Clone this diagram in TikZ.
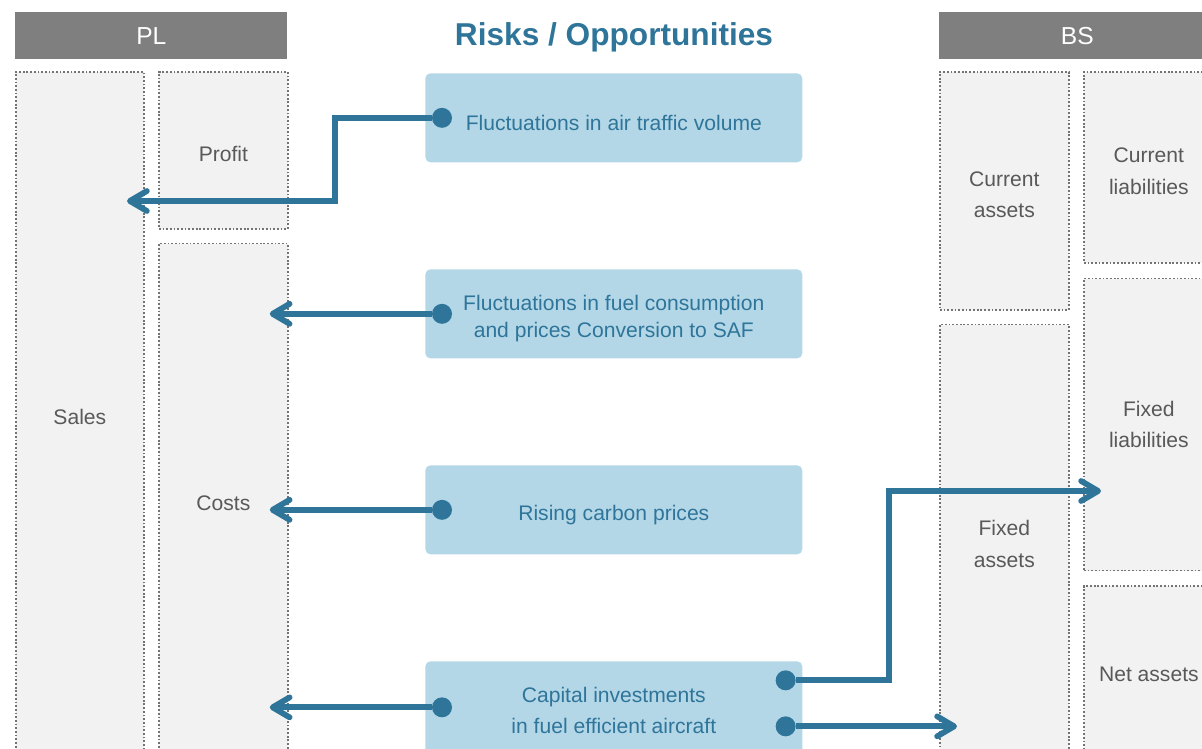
\documentclass[tikz,border=0pt]{standalone}
\usepackage{fontspec}
\setmainfont{Liberation Sans}
\usetikzlibrary{positioning,arrows.meta,calc}
\definecolor{accent}{RGB}{46,117,153}
\definecolor{riskbg}{RGB}{180,215,232}
\definecolor{cellbg}{RGB}{242,242,242}
\definecolor{headc}{RGB}{127,127,127}
\definecolor{labelc}{RGB}{89,89,89}
\definecolor{edgec}{RGB}{115,115,115}
\tikzset{
  hd/.style={fill=headc,text=white,anchor=north west,minimum width=5.44cm,minimum height=0.94cm,inner sep=0pt,font=\fontsize{14}{16}\selectfont},
  cell/.style={draw=edgec,line width=1pt,dash pattern=on 1pt off 1.1pt,fill=cellbg,anchor=north west,minimum width=2.58cm,align=center,text=labelc,inner sep=0pt,font=\fontsize{12}{18}\selectfont},
  risk/.style={fill=riskbg,rounded corners=0.1cm,anchor=north west,minimum width=7.54cm,minimum height=1.78cm,align=center,text=accent,font=\fontsize{12}{18}\selectfont},
  low/.style={text height=1.5em},
  lowtwo/.style={text height=31pt},
  dot/.style={circle,fill=accent,inner sep=0pt,minimum size=0.4cm},
  ar/.style={-{Straight Barb[length=0.34cm,width=0.4cm,round]},line width=0.115cm,accent},
}
\begin{document}
\begin{tikzpicture}[x=0.02cm,y=-0.02cm]
  \useasboundingbox (0,0) rectangle (1202,749);
  \clip (0,0) rectangle (1202,749);
  % headers
  \node[hd] (plhd) at (15,12) {PL};
  \node[hd,minimum width=5.52cm] (bshd) at (939,12) {BS};
  \node[font=\bfseries\fontsize{18}{20}\selectfont,text=accent] (ttl) at (614,37) {Risks / Opportunities};
  % PL
  \node[cell,minimum width=2.56cm,minimum height=13.8cm] (sales) at (15,71) {Sales};
  \node[cell,text height=1.25em,minimum height=3.14cm] (profit) at (158,71) {Profit};
  \node[cell,minimum height=10.4cm] (costs) at ([yshift=-0.26cm]profit.south west) {Costs};
  % BS
  \node[cell,lowtwo,minimum height=4.76cm] (curass) at (939,71) {Current\\assets};
  \node[cell,minimum height=8.78cm] (fixass) at ([yshift=-0.26cm]curass.south west) {Fixed\\assets};
  \node[cell,lowtwo,minimum width=2.6cm,minimum height=3.82cm] (curlia) at (1083,71) {Current\\liabilities};
  \node[cell,minimum width=2.6cm,minimum height=5.84cm] (fixlia) at ([yshift=-0.28cm]curlia.south west) {Fixed\\liabilities};
  \node[cell,minimum width=2.6cm,minimum height=3.52cm] (netass) at ([yshift=-0.28cm]fixlia.south west) {Net assets};
  % risks
  \node[risk,low] (r1) at (425,73) {Fluctuations in air traffic volume};
  \node[risk,text height=29.6pt,font=\fontsize{12}{15.3}\selectfont] (r2) at (425,269) {Fluctuations in fuel consumption\\and prices Conversion to SAF};
  \node[risk,low] (r3) at (425,465) {Rising carbon prices};
  \node[risk,minimum height=1.96cm] (r4) at (425,661) {Capital investments\\in fuel efficient aircraft};
  % connectors
  \node[dot] (d1) at ([xshift=0.34cm]r1.west) {};
  \node[dot] (d2) at ([xshift=0.34cm]r2.west) {};
  \node[dot] (d3) at ([xshift=0.34cm]r3.west) {};
  \node[dot] (d4) at ([xshift=0.34cm,yshift=0.06cm]r4.west) {};
  \node[dot] (d5) at ([xshift=-0.34cm,yshift=0.6cm]r4.east) {};
  \node[dot] (d6) at ([xshift=-0.34cm,yshift=-0.32cm]r4.east) {};
  \coordinate (t1) at (127,201);
  \coordinate (t5) at (1101,491);
  \draw[ar] (d1) -- ([xshift=-2.14cm]d1.center) |- (t1);
  \draw[ar] (d2) -- ([xshift=-0.38cm]costs.east |- d2);
  \draw[ar] (d3) -- ([xshift=-0.38cm]costs.east |- d3);
  \draw[ar] (d4) -- ([xshift=-0.38cm]costs.east |- d4);
  \draw[ar] (d5) -- ([xshift=2.06cm]d5.center) |- (t5);
  \draw[ar] (d6) -- ([xshift=0.36cm]fixass.west |- d6);
\end{tikzpicture}
\end{document}
